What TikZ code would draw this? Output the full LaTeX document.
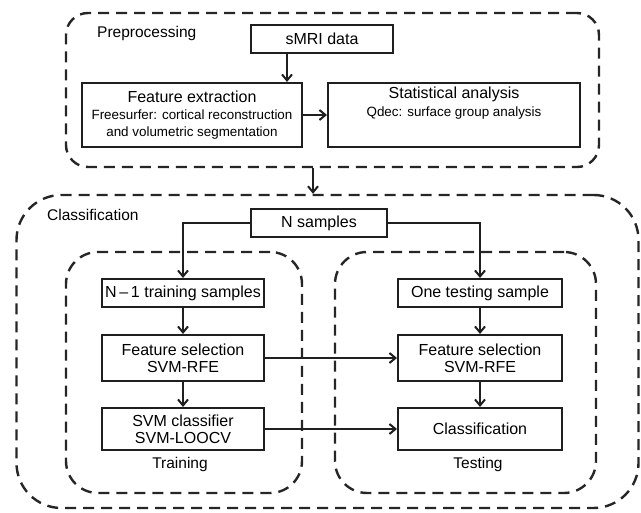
\documentclass[tikz,border=0pt]{standalone}
\usepackage{fontspec}
\setmainfont{Liberation Sans}
\usetikzlibrary{arrows.meta}
\begin{document}
\begin{tikzpicture}[x=1pt,y=-1pt,
  box/.style={draw=black!88, line width=2pt, inner sep=0pt, align=center, font=\fontsize{16}{17}\selectfont},
  grp/.style={draw=black!85, line width=2.4pt, dash pattern=on 11pt off 7pt, inner sep=0pt},
  lbl/.style={inner sep=0pt, font=\fontsize{15.5}{18}\selectfont},
  arr/.style={draw=black!88, line width=2pt, -{Straight Barb[length=6pt,width=10pt]}}]
\useasboundingbox (0,0) rectangle (641,513);
% containers
\node[grp, rounded corners=22pt, minimum width=533pt, minimum height=154pt] (pre) at (332.5,90) {};
\node[grp, rounded corners=45pt, minimum width=622pt, minimum height=313pt] (cls) at (327.5,351.5) {};
\node[grp, rounded corners=32pt, minimum width=236pt, minimum height=241pt] (trn) at (184,372.5) {};
\node[grp, rounded corners=32pt, minimum width=261pt, minimum height=241pt] (tst) at (465.5,372.5) {};
% labels
\node[lbl, anchor=west] (prelbl) at (97,33) {Preprocessing};
\node[lbl, anchor=west] (clslbl) at (47,215) {Classification};
\node[lbl] (trnlbl) at (180,464) {Training};
\node[lbl] (tstlbl) at (478,464) {Testing};
% preprocessing boxes
\node[box, minimum width=142pt, minimum height=28pt] (smri) at (322,39) {sMRI data};
\node[box, minimum width=220pt, minimum height=64pt, font=\fontsize{16}{18}\selectfont] (fe) at (192,115)
  {Feature extraction\\[-1pt]{\fontsize{13.4}{18}\selectfont Freesurfer: cortical reconstruction}\\[-1pt]{\fontsize{13.4}{17}\selectfont and volumetric segmentation}};
\node[box, minimum width=252pt, minimum height=64pt] (sa) at (454,115) {};
\node[inner sep=0pt, align=center, font=\fontsize{16}{19}\selectfont] (satext) at (454,103)
  {Statistical analysis\\[-1pt]{\fontsize{13.4}{17}\selectfont Qdec: surface group analysis}};
% classification boxes
\node[box, minimum width=136pt, minimum height=28pt] (ns) at (319,223) {N samples};
\node[box, minimum width=162pt, minimum height=28pt] (n1) at (183,293) {N\,–\,1 training samples};
\node[box, minimum width=162pt, minimum height=46pt] (fsl) at (183,358) {Feature selection\\SVM-RFE};
\node[box, minimum width=162pt, minimum height=42pt] (svm) at (183,429) {SVM classifier\\SVM-LOOCV};
\node[box, minimum width=164pt, minimum height=28pt] (one) at (480,293) {One testing sample};
\node[box, minimum width=164pt, minimum height=46pt] (fsr) at (480,358) {Feature selection\\SVM-RFE};
\node[box, minimum width=164pt, minimum height=42pt] (clf) at (480,429) {Classification};
% helper coordinates
\coordinate (cx1) at (287,0);
\coordinate (cx2) at (313,0);
% connectors
\draw[arr] (smri.south -| cx1) -- (fe.north -| cx1);
\draw[arr] (fe.east) -- (sa.west);
\draw[arr] (pre.south -| cx2) -- (cls.north -| cx2);
\draw[arr] (ns.west) -| (n1.north);
\draw[arr] (ns.east) -| (one.north);
\draw[arr] (n1.south) -- (fsl.north);
\draw[arr] (fsl.south) -- (svm.north);
\draw[arr] (one.south) -- (fsr.north);
\draw[arr] (fsr.south) -- (clf.north);
\draw[arr] (fsl.east) -- (fsr.west);
\draw[arr] (svm.east) -- (clf.west);
\end{tikzpicture}
\end{document}
